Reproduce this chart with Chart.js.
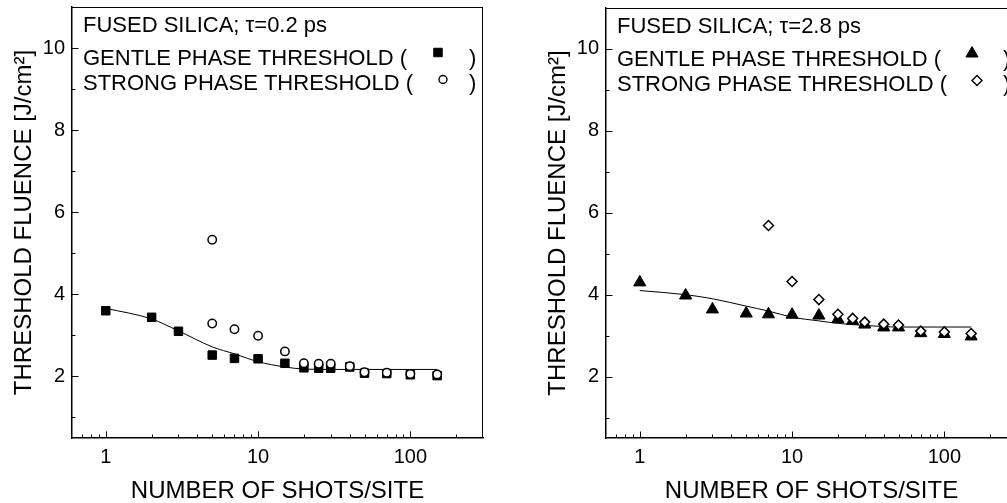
<!DOCTYPE html>
<html>
<head>
<meta charset="utf-8">
<script src="https://cdn.jsdelivr.net/npm/chart.js@4/dist/chart.umd.min.js"></script>
<style>
    html, body { margin: 0; padding: 0; overflow: hidden; background: #fff; width: 1007px; height: 503px; }
    .panel { position: absolute; top: 0; width: 534px; height: 503px; }
</style>
</head>
<body>
<div class="panel" style="left:0"><canvas id="chartShort" width="534" height="503"></canvas></div>
<div class="panel" style="left:534px"><canvas id="chartLong" width="534" height="503"></canvas></div>
<script>
// tau = 0.2 ps
const shortGentleShots = [1, 2, 3, 5, 7, 10, 15, 20, 25, 30, 40, 50, 70, 100, 150];
const shortGentleFluence = [3.60, 3.44, 3.10, 2.52, 2.44, 2.43, 2.32, 2.21, 2.20, 2.20, 2.23, 2.08, 2.07, 2.04, 2.02];
const shortStrongShots = [5, 5, 7, 10, 15, 20, 25, 30, 40, 50, 70, 100, 150];
const shortStrongFluence = [5.33, 3.29, 3.15, 2.99, 2.61, 2.32, 2.31, 2.31, 2.25, 2.10, 2.09, 2.06, 2.05];
const shortFitShots = [1, 2, 3, 5, 7, 10, 15, 20, 30, 50, 100, 150];
const shortFitFluence = [3.66, 3.40, 3.11, 2.72, 2.55, 2.36, 2.23, 2.18, 2.17, 2.17, 2.17, 2.17];

// tau = 2.8 ps
const longGentleShots = [1, 2, 3, 5, 7, 10, 15, 20, 25, 30, 40, 50, 70, 100, 150];
const longGentleFluence = [4.30, 3.98, 3.64, 3.54, 3.52, 3.51, 3.49, 3.40, 3.36, 3.27, 3.20, 3.20, 3.06, 3.04, 2.98];
const longStrongShots = [7, 10, 15, 20, 25, 30, 40, 50, 70, 100, 150];
const longStrongFluence = [5.69, 4.32, 3.88, 3.52, 3.42, 3.33, 3.28, 3.26, 3.11, 3.09, 3.05];
const longFitShots = [1, 2, 3, 5, 7, 10, 15, 20, 30, 50, 100, 150];
const longFitFluence = [4.10, 4.00, 3.90, 3.72, 3.60, 3.45, 3.36, 3.30, 3.25, 3.21, 3.21, 3.21];

// axis ticks
const xTicksMajor = [1, 10, 100];
const xTicksMinor = [0.7, 0.8, 0.9, 2, 3, 4, 5, 6, 7, 8, 9, 20, 30, 40, 50, 60, 70, 80, 90, 200];
const yTicksMajor = [2, 4, 6, 8, 10];
const yTicksMinor = [1, 3, 5, 7, 9];

const FONT = '"Liberation Sans", Arial, Helvetica, sans-serif';
Chart.defaults.font.family = FONT;
Chart.defaults.color = '#000';

function toPoints(xs, ys) {
    return xs.map((x, i) => ({ x: x, y: ys[i] }));
}

// box frame (top/right) and inward tick marks
const framePlugin = {
    id: 'frame',
    afterDraw(chart) {
        const { ctx, chartArea: a, scales: { x, y } } = chart;
        ctx.save();
        ctx.strokeStyle = '#000';
        ctx.lineWidth = 1;
        ctx.beginPath();
        ctx.moveTo(a.left, a.top + 0.5);
        ctx.lineTo(a.right, a.top + 0.5);
        ctx.moveTo(a.right - 0.5, a.top);
        ctx.lineTo(a.right - 0.5, a.bottom);
        xTicksMajor.forEach(v => {
            const px = Math.round(x.getPixelForValue(v)) + 0.5;
            ctx.moveTo(px, a.bottom);
            ctx.lineTo(px, a.bottom - 6.5);
        });
        xTicksMinor.forEach(v => {
            const px = Math.round(x.getPixelForValue(v)) + 0.5;
            ctx.moveTo(px, a.bottom);
            ctx.lineTo(px, a.bottom - 3.5);
        });
        yTicksMajor.forEach(v => {
            const py = Math.round(y.getPixelForValue(v)) + 0.5;
            ctx.moveTo(a.left, py);
            ctx.lineTo(a.left + 6.5, py);
        });
        yTicksMinor.forEach(v => {
            const py = Math.round(y.getPixelForValue(v)) + 0.5;
            ctx.moveTo(a.left, py);
            ctx.lineTo(a.left + 3.5, py);
        });
        ctx.stroke();
        ctx.restore();
    }
};

// legend text inside the plot box
const innerLegend = {
    id: 'innerLegend',
    afterDraw(chart, args, opts) {
        const { ctx, chartArea: a } = chart;
        const x0 = a.left + 11;
        ctx.save();
        ctx.fillStyle = '#000';
        ctx.font = '22px ' + FONT;
        ctx.textBaseline = 'alphabetic';
        ctx.textAlign = 'left';
        ctx.fillText(opts.title, x0, a.top + 25);
        opts.rows.forEach(row => {
            const y = a.top + row.baseline;
            ctx.fillStyle = '#000';
            ctx.fillText(row.label + ' (', x0, y);
            ctx.fillText(')', a.left + 397, y);
            ctx.fillStyle = row.fill;
            ctx.strokeStyle = '#000';
            ctx.lineWidth = row.borderWidth;
            Chart.helpers.drawPoint(ctx, {
                pointStyle: row.style, radius: row.radius, rotation: 0, borderWidth: row.borderWidth
            }, a.left + row.markerX, a.top + row.markerY);
        });
        ctx.restore();
    }
};

function makeChart(canvasId, title, gentle, strong, fit, gentleStyle, strongStyle) {
    const config = {
        type: 'scatter',
        data: {
            datasets: [
                {
                    label: 'STRONG PHASE THRESHOLD',
                    data: strong,
                    order: 0,
                    pointStyle: strongStyle.style,
                    pointRadius: strongStyle.radius,
                    backgroundColor: '#fff',
                    borderColor: '#000',
                    borderWidth: 1.5
                },
                {
                    label: 'GENTLE PHASE THRESHOLD',
                    data: gentle,
                    order: 1,
                    pointStyle: gentleStyle.style,
                    pointRadius: gentleStyle.radius,
                    backgroundColor: '#000',
                    borderColor: '#000',
                    borderWidth: 1
                },
                {
                    label: 'fit',
                    data: fit,
                    order: 2,
                    showLine: true,
                    pointRadius: 0,
                    borderColor: '#000',
                    borderWidth: 1,
                    cubicInterpolationMode: 'monotone'
                }
            ]
        },
        options: {
            responsive: false,
            animation: false,
            devicePixelRatio: 1,
            events: [],
            layout: { padding: { left: 0, top: 5, right: 51, bottom: 0 } },
            plugins: {
                legend: { display: false },
                tooltip: { enabled: false },
                innerLegend: {
                    title: title,
                    rows: [
                        { label: 'GENTLE PHASE THRESHOLD', baseline: 58, markerX: 366, markerY: 45.5,
                          style: gentleStyle.style, radius: gentleStyle.legendRadius, fill: '#000', borderWidth: 1 },
                        { label: 'STRONG PHASE THRESHOLD', baseline: 82.5, markerX: 371, markerY: 72.5,
                          style: strongStyle.style, radius: strongStyle.legendRadius, fill: '#fff', borderWidth: 1.4 }
                    ]
                }
            },
            scales: {
                x: {
                    type: 'logarithmic',
                    min: 0.6,
                    max: 300,
                    grid: { display: false, drawTicks: false },
                    border: { display: true, color: '#000', width: 1.5 },
                    afterBuildTicks: scale => { scale.ticks = xTicksMajor.map(v => ({ value: v })); },
                    afterFit: scale => {
                        scale.height = 65;
                        scale.paddingLeft = 0;
                        scale.paddingRight = 0;
                    },
                    ticks: {
                        font: { size: 20 },
                        padding: 7,
                        maxRotation: 0,
                        callback: v => String(v)
                    },
                    title: {
                        display: true,
                        text: 'NUMBER OF SHOTS/SITE',
                        font: { size: 24, lineHeight: 1 },
                        padding: { top: 0, bottom: 0 }
                    }
                },
                y: {
                    type: 'linear',
                    min: 0.5,
                    max: 11,
                    grid: { display: false, drawTicks: false },
                    border: { display: true, color: '#000', width: 1.5 },
                    afterBuildTicks: scale => { scale.ticks = yTicksMajor.map(v => ({ value: v })); },
                    afterFit: scale => {
                        scale.width = 72;
                        scale.paddingTop = 0;
                        scale.paddingBottom = 0;
                    },
                    ticks: {
                        font: { size: 20 },
                        padding: 7,
                        callback: v => String(v)
                    },
                    title: {
                        display: true,
                        text: 'THRESHOLD FLUENCE [J/cm²]',
                        font: { size: 24, lineHeight: 1 },
                        padding: { top: 12, bottom: 0 }
                    }
                }
            }
        },
        plugins: [framePlugin, innerLegend]
    };
    return new Chart(document.getElementById(canvasId), config);
}

makeChart(
    'chartShort',
    'FUSED SILICA; τ=0.2 ps',
    toPoints(shortGentleShots, shortGentleFluence),
    toPoints(shortStrongShots, shortStrongFluence),
    toPoints(shortFitShots, shortFitFluence),
    { style: 'rect', radius: 6, legendRadius: 6 },
    { style: 'circle', radius: 4.2, legendRadius: 4 }
);

makeChart(
    'chartLong',
    'FUSED SILICA; τ=2.8 ps',
    toPoints(longGentleShots, longGentleFluence),
    toPoints(longStrongShots, longStrongFluence),
    toPoints(longFitShots, longFitFluence),
    { style: 'triangle', radius: 7, legendRadius: 7 },
    { style: 'rectRot', radius: 5, legendRadius: 5 }
);
</script>
</body>
</html>
